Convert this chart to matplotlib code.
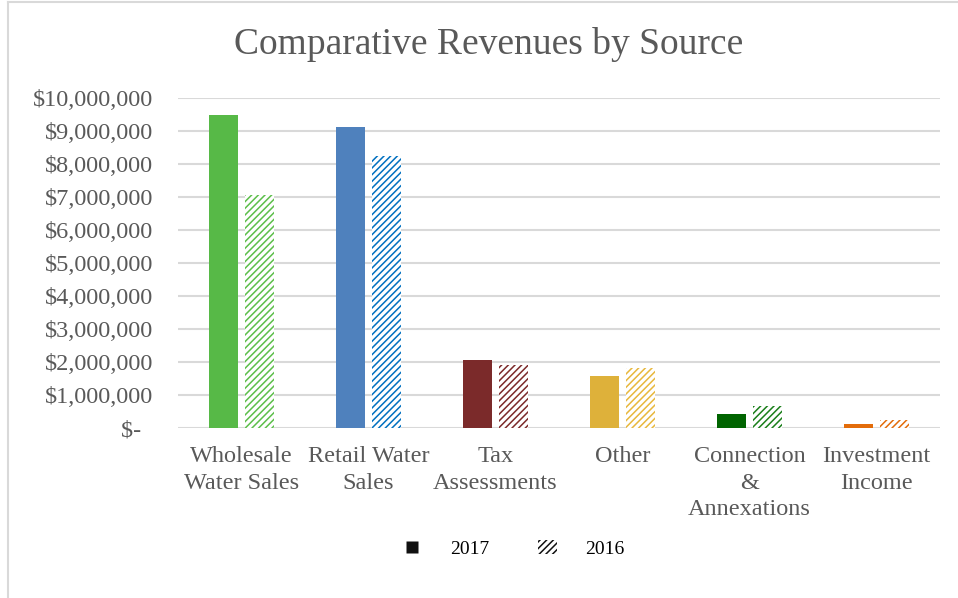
import numpy as np
import matplotlib
matplotlib.use("Agg")
import matplotlib.pyplot as plt
from matplotlib.patches import Patch
from matplotlib.ticker import FuncFormatter, MultipleLocator
from matplotlib.lines import Line2D

plt.rcParams['font.family'] = ['Liberation Serif', 'DejaVu Serif']
plt.rcParams['hatch.linewidth'] = 1.1

# data
categories = ['Wholesale\nWater Sales', 'Retail Water\nSales', 'Tax\nAssessments',
              'Other', 'Connection\n&\nAnnexations', 'Investment\nIncome']
rev_2017 = [9480000, 9120000, 2060000, 1590000, 420000, 120000]
rev_2016 = [7060000, 8240000, 1910000, 1810000, 670000, 240000]
colors_2017 = ['#57B947', '#4F81BD', '#7B2A2A', '#DEB13A', '#006400', '#E36C0A']
colors_2016 = ['#5CBF4A', '#0070C0', '#7B2A2A', '#E8B83C', '#1A7F1A', '#E36C0A']

text_col = '#595959'

fig = plt.figure(figsize=(9.58, 5.98), dpi=100)
ax = fig.add_axes([0.186, 0.284, 0.795, 0.552])

x = np.arange(len(categories))
w = 0.228
off = 0.142
ax.bar(x - off, rev_2017, width=w, color=colors_2017, zorder=3)
for xi, v, c in zip(x, rev_2016, colors_2016):
    ax.bar(xi + off, v, width=w, facecolor='white', edgecolor=c,
           hatch='/////', linewidth=0, zorder=3)

ax.set_xlim(-0.5, len(categories) - 0.5)
ax.set_ylim(0, 10000000)
ax.yaxis.set_major_locator(MultipleLocator(1000000))

def money(v, pos):
    if v == 0:
        return '$-  '
    return '${:,.0f}'.format(v)

ax.yaxis.set_major_formatter(FuncFormatter(money))
ax.grid(axis='y', color='#D9D9D9', linewidth=1.5, zorder=0)
for s in ax.spines.values():
    s.set_visible(False)
ax.tick_params(axis='both', length=0, labelsize=17.5, labelcolor=text_col)
ax.tick_params(axis='y', pad=18)
ax.tick_params(axis='x', pad=13)
ax.set_xticks(x)
ax.set_xticklabels(categories, linespacing=1.35, va='top')

fig.text(0.51, 0.925, 'Comparative Revenues by Source', ha='center', va='center',
         fontsize=27, color=text_col)

handles = [Line2D([], [], linestyle='none', marker='s', markersize=8,
                  markerfacecolor='#111111', markeredgecolor='none'),
           Patch(facecolor='white', edgecolor='#111111', hatch='/////', linewidth=0)]
fig.legend(handles, ['2017', '2016'], loc='center', bbox_to_anchor=(0.536, 0.082),
           ncol=2, frameon=False, fontsize=14, handlelength=1.0, handleheight=0.75,
           handletextpad=1.45, columnspacing=2.5)

# chart area border (left and top edges visible)
fig.add_artist(Line2D([8 / 958, 8 / 958], [0, 1 - 2 / 598], transform=fig.transFigure,
                      color='#D9D9D9', linewidth=1.5))
fig.add_artist(Line2D([8 / 958, 1], [1 - 2 / 598, 1 - 2 / 598], transform=fig.transFigure,
                      color='#D9D9D9', linewidth=1.5))

fig.savefig('out.png', dpi=100)
